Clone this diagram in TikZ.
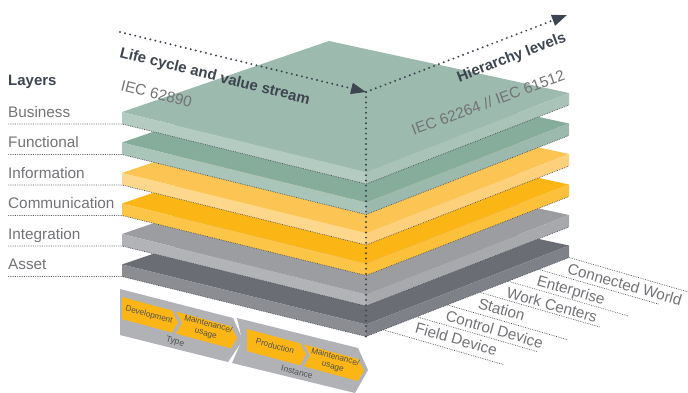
\documentclass[tikz,border=0pt]{standalone}
\usepackage{fontspec}
\setmainfont{Liberation Sans}
\usetikzlibrary{arrows.meta,calc}
\definecolor{buT}{HTML}{9DBAAE}\definecolor{buL}{HTML}{B4CBC1}\definecolor{buR}{HTML}{A9C3B8}
\definecolor{fuT}{HTML}{86AC9C}\definecolor{fuL}{HTML}{A9C4B9}\definecolor{fuR}{HTML}{9BBAAD}
\definecolor{ifT}{HTML}{FCC452}\definecolor{ifL}{HTML}{FDD78C}\definecolor{ifR}{HTML}{FDD07C}
\definecolor{coT}{HTML}{FBB616}\definecolor{coL}{HTML}{FCC548}\definecolor{coR}{HTML}{FCC03A}
\definecolor{inT}{HTML}{9C9DA1}\definecolor{inL}{HTML}{B2B3B6}\definecolor{inR}{HTML}{A8A9AC}
\definecolor{asT}{HTML}{6A6D74}\definecolor{asL}{HTML}{8B8D93}\definecolor{asR}{HTML}{7E8187}
\definecolor{lblgray}{HTML}{727376}
\definecolor{darktxt}{HTML}{3D4550}
\definecolor{dotgray}{HTML}{4A4F57}
\definecolor{bandgray}{HTML}{B1B2B5}
\definecolor{boxorange}{HTML}{FBB616}
\definecolor{boxtext}{HTML}{4D4F53}
\begin{document}
\begin{tikzpicture}[x=1pt,y=-1pt,
  lbl/.style={font=\fontsize{15.3}{18}\selectfont, text=lblgray, inner sep=0pt},
  boldlbl/.style={font=\fontsize{15}{18}\selectfont\bfseries, text=darktxt, inner sep=0pt},
  finedots/.style={draw=dotgray, line width=0.7pt, dash pattern=on 0.7pt off 1.1pt},
  bigdots/.style={draw=darktxt, line width=2.2pt, line cap=round, dash pattern=on 0pt off 5.2pt},
  boxtxt/.style={font=\fontsize{8.2}{9.6}\selectfont, text=boxtext, inner sep=0pt, align=center},
  bandtxt/.style={font=\fontsize{8.5}{10}\selectfont, text=boxtext, inner sep=0pt},
  tip/.style={-{Triangle[length=15pt,width=11pt]}}
]
\useasboundingbox (0,0) rectangle (688,392);

% layers (bottom to top)
\foreach \k/\ct/\cl/\cr/\name in {5/asT/asL/asR/Asset,4/inT/inL/inR/Integration,3/coT/coL/coR/Communication,2/ifT/ifL/ifR/Information,1/fuT/fuL/fuR/Functional,0/buT/buL/buR/Business}{
  \pgfmathsetmacro\dy{30.5*\k}
  \coordinate (L\k) at (122,{112+\dy});
  \coordinate (B\k) at (329,{41+\dy});
  \coordinate (R\k) at (569,{93+\dy});
  \coordinate (F\k) at (366,{172+\dy});
  \coordinate (Lb\k) at (122,{124+\dy});
  \coordinate (Rb\k) at (569,{105+\dy});
  \coordinate (Fb\k) at (366,{184+\dy});
  \coordinate (ls\k) at (8,{124+\dy});
  \fill[\ct] (L\k) -- (B\k) -- (R\k) -- (F\k) -- cycle;
  \fill[\cl] (L\k) -- (F\k) -- (Fb\k) -- (Lb\k) -- cycle;
  \fill[\cr] (F\k) -- (R\k) -- (Rb\k) -- (Fb\k) -- cycle;
  \draw[finedots] (ls\k) -- (Lb\k) -- (Fb\k) -- (Rb\k);
  \node[lbl, anchor=base west] (lab\k) at (8,{117+\dy}) {\name};
}
\node[boldlbl, anchor=base west] (layers) at (8,85) {Layers};

% axes
\coordinate (C) at (366,92);
\coordinate (lcs) at (120,32);
\coordinate (hle) at (567,15);
\draw[bigdots] (C) -- (Fb5);
\draw[bigdots, tip] (lcs) -- (C);
\draw[bigdots, tip] (C) -- (hle);

\node[boldlbl, rotate=-14, anchor=base west] (lctext) at (119,57) {Life cycle and value stream};
\node[lbl, rotate=-14, anchor=base west] (iec1) at (120,90) {IEC 62890};
\node[boldlbl, rotate=21, anchor=base east] (hltext) at (567,41) {Hierarchy levels};
\node[lbl, rotate=20, anchor=base east] (iec2) at (566,80) {IEC 62264 // IEC 61512};

% hierarchy levels
\foreach \t/\txt [count=\i] in {1/Connected World,0.85/Enterprise,0.70/Work Centers,0.56/Station,0.40/Control Device,0.25/Field Device}{
  \coordinate (hs\i) at ($(Fb5)!\t!(Rb5)$);
  \coordinate (he\i) at ($(hs\i)+(121,35)$);
  \draw[finedots] (hs\i) -- (he\i);
  \node[lbl, rotate=-16, anchor=north west] (ht\i) at ($(hs\i)+(0.5,5)$) {\txt};
}
\coordinate (hs7) at ($(Fb5)!0.085!(Rb5)$);
\coordinate (he7) at ($(hs7)+(121,35)$);
\draw[finedots] (hs7) -- (he7);

% life cycle band
\fill[bandgray] (120,289) -- (233,318) -- (243,340) -- (228,362) -- (120,335) -- cycle;
\fill[bandgray] (237,318) -- (358,348) -- (368,370) -- (355,393) -- (232,363) -- (242,340) -- cycle;
\fill[boxorange] (122,297) -- (172,310.5) -- (178,322.5) -- (172,332.5) -- (122,319) -- cycle;
\fill[boxorange] (176,311.6) -- (231,326.4) -- (237,338) -- (231,348.4) -- (176,333.6) -- (182,322.6) -- cycle;
\fill[boxorange] (247,329) -- (300,343.3) -- (306,354.5) -- (300,365.3) -- (247,351) -- cycle;
\fill[boxorange] (304,344.4) -- (358,359) -- (364,370.6) -- (358,381) -- (304,366.4) -- (310,355.4) -- cycle;
\node[boxtxt, rotate=-15] (dev) at (149,315) {Development};
\node[boxtxt, rotate=-15] (mt1) at (207,329) {Maintenance/\\usage};
\node[boxtxt, rotate=-15] (prod) at (275,346) {Production};
\node[boxtxt, rotate=-15] (mt2) at (334,362) {Maintenance/\\usage};
\node[bandtxt, rotate=-15] (type) at (175,342) {Type};
\node[bandtxt, rotate=-15] (inst) at (297,372) {Instance};
\end{tikzpicture}
\end{document}
